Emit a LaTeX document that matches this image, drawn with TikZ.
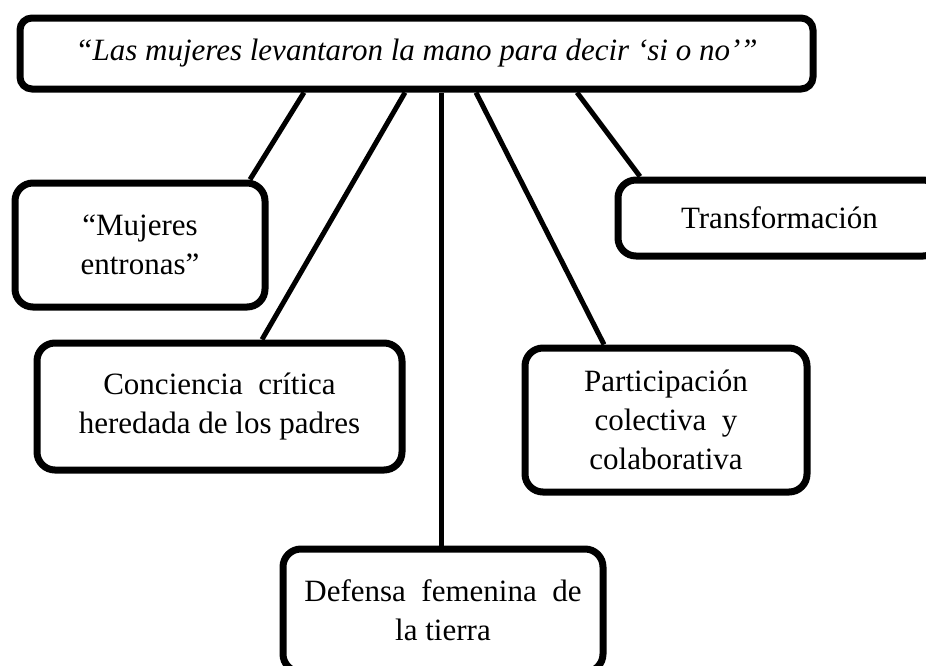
\documentclass[tikz,border=0pt]{standalone}
\usepackage{fontspec}
\setmainfont{Liberation Serif}
\usepackage{tikz}

\begin{document}
\begin{tikzpicture}[x=1pt, y=-1pt,
    caja/.style={draw, line width=7pt, rounded corners=18pt, fill=white,
      align=center, inner sep=0pt, font=\fontsize{31}{39}\selectfont},
    conector/.style={line width=5pt}]
    \useasboundingbox (0,0) rectangle (926,665);
    \clip (0,0) rectangle (926,665);

    %% central phrase
    \node[caja, rounded corners=12pt, minimum width=793pt, minimum height=71pt,
      font=\fontsize{31}{39}\selectfont\itshape] (frase) at (416.5,53.5)
      {“Las mujeres levantaron la mano para decir ‘si o no’”};

    %% themes
    \node[caja, minimum width=250pt, minimum height=124pt] (entronas) at (140,245)
      {“Mujeres\\entronas”};
    \node[caja, minimum width=365pt, minimum height=127pt] (conciencia) at (219.5,406.5)
      {Conciencia \ crítica\\heredada de los padres};
    \node[caja, minimum width=323pt, minimum height=76pt] (transf) at (779.5,218)
      {Transformación};
    \node[caja, minimum width=282pt, minimum height=144pt] (particip) at (666,420)
      {Participación\\colectiva \ y\\colaborativa};
    \node[caja, minimum width=320pt, minimum height=123pt] (defensa) at (443,610.5)
      {Defensa \ femenina \ de\\la tierra};

    %% connectors
    \draw[conector] ([xshift=-112.5pt]frase.south) -- ([xshift=110pt]entronas.north);
    \draw[conector] ([xshift=-11.5pt]frase.south) -- ([xshift=42.5pt]conciencia.north);
    \draw[conector] ([xshift=24.5pt]frase.south) -- ([xshift=-2pt]defensa.north);
    \draw[conector] ([xshift=59.5pt]frase.south) -- ([xshift=-62pt]particip.north);
    \draw[conector] ([xshift=160.5pt]frase.south) -- ([xshift=-139.5pt]transf.north);
  \end{tikzpicture}
\end{document}
